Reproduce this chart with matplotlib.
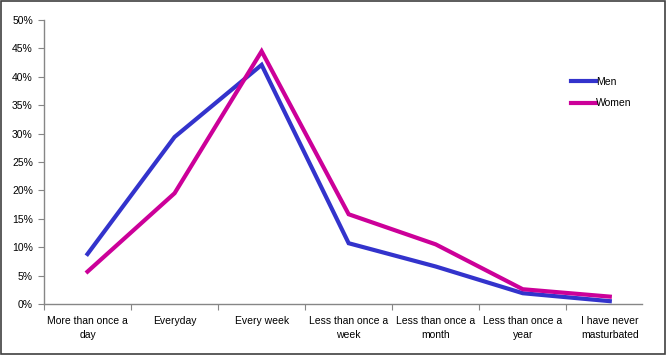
import numpy as np
import matplotlib.pyplot as plt
from matplotlib.patches import Rectangle

categories = ['More than once a\nday', 'Everyday', 'Every week', 'Less than once a\nweek',
              'Less than once a\nmonth', 'Less than once a\nyear', 'I have never\nmasturbated']
men = [8.8, 29.4, 42.1, 10.7, 6.6, 1.9, 0.5]
women = [5.7, 19.5, 44.5, 15.8, 10.5, 2.6, 1.3]
yticks = [0, 5, 10, 15, 20, 25, 30, 35, 40, 45, 50]

plt.rcParams['font.family'] = ['Liberation Sans', 'DejaVu Sans']

fig = plt.figure(figsize=(6.68, 3.55), dpi=100)
ax = fig.add_axes([44/668, 51/355, (642-44)/668, (304-20)/355])

x = np.arange(len(categories))
ax.plot(x, men, color='#3333CC', lw=3, solid_joinstyle='miter', label='Men')
ax.plot(x, women, color='#CC0099', lw=3, solid_joinstyle='miter', label='Women')

ax.set_xlim(-0.5, 6.37)
ax.set_ylim(0, 50)
ax.set_yticks(yticks)
ax.set_yticklabels(['{}%'.format(v) for v in yticks], fontsize=7.5)

ax.set_xticks(np.arange(-0.5, 6.5, 1.0))
ax.set_xticklabels([])
ax.set_xticks(x, minor=True)
ax.set_xticklabels(categories, minor=True, fontsize=7.5, linespacing=1.5)
ax.tick_params(axis='x', which='minor', length=0, pad=9)
ax.tick_params(axis='x', which='major', length=4, color='#868686', direction='out')
ax.tick_params(axis='y', length=4, color='#868686', direction='out', pad=4)

for s in ['top', 'right']:
    ax.spines[s].set_visible(False)
for s in ['left', 'bottom']:
    ax.spines[s].set_color('#868686')
    ax.spines[s].set_linewidth(1)

ax.legend(loc='upper left', bbox_to_anchor=(0.875, 0.815), frameon=False, fontsize=7.5,
          handlelength=2.4, handletextpad=0.0, labelspacing=1.1, borderaxespad=0)

fig.patches.append(Rectangle((0.001, 0.002), 0.995, 0.996, transform=fig.transFigure,
                             fill=False, edgecolor='#404040', lw=1.2))

fig.savefig('out.png', dpi=100)
